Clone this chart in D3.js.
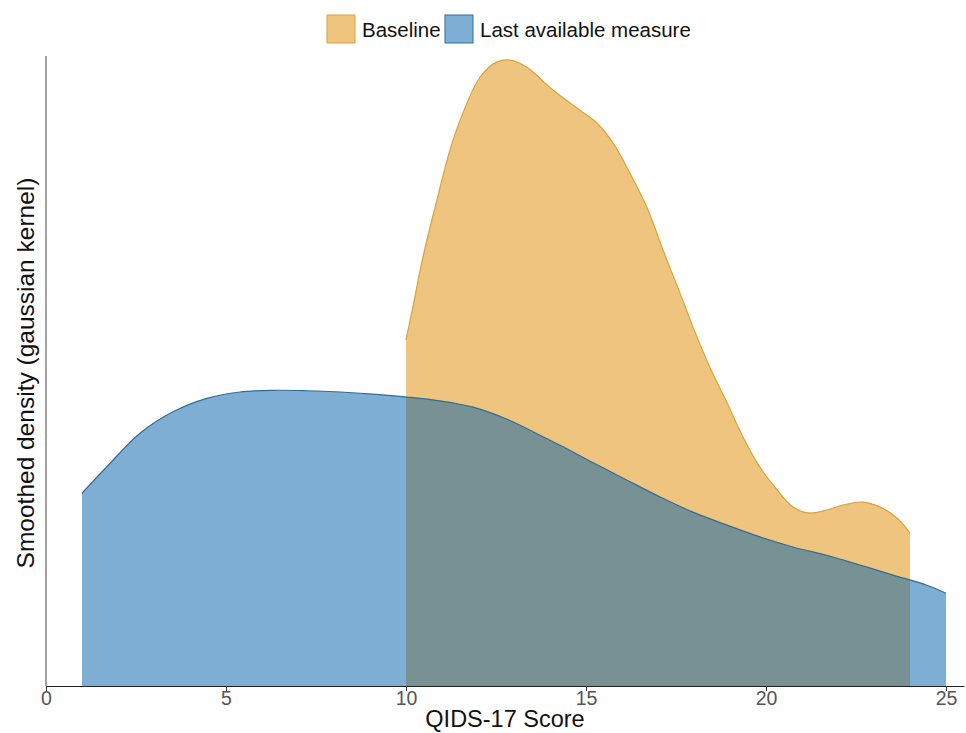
<!DOCTYPE html>
<html>
<head>
<meta charset="utf-8">
<script src="https://cdn.jsdelivr.net/npm/d3@7"></script>
<style>
  body { margin: 0; background: #fff; }
  svg { font-family: "Liberation Sans", Arial, sans-serif; }
</style>
</head>
<body>
<svg id="chart" width="966" height="733"></svg>
<script>
// density curves (score, smoothed density)
const baselineScore = [10, 10.19, 10.47, 10.86, 11.22, 11.58, 12.06, 12.53, 12.89, 13.36, 14.08, 14.83, 15.31, 15.75, 16.22, 16.69, 17.14, 17.61, 17.97, 18.44, 18.92, 19.36, 19.83, 20.31, 20.75, 21.17, 21.69, 22.14, 22.69, 23.17, 23.64, 24];
const baselineDensity = [0.0824, 0.0902, 0.1021, 0.1157, 0.1276, 0.1364, 0.1450, 0.1486, 0.1490, 0.1473, 0.1419, 0.1371, 0.1340, 0.1293, 0.1221, 0.1140, 0.1038, 0.0936, 0.0855, 0.0759, 0.0674, 0.0593, 0.0521, 0.0467, 0.0426, 0.0412, 0.0419, 0.0431, 0.0438, 0.0426, 0.0400, 0.0364];

const lastScore = [1, 1.69, 2.61, 3.53, 4.47, 5.39, 6.31, 7.25, 8.17, 9.08, 10.03, 10.94, 11.86, 12.81, 13.72, 14.28, 15.19, 16.14, 17.06, 17.97, 18.92, 19.83, 20.75, 21.69, 22.61, 23.53, 24.47, 25];
const lastDensity = [0.0459, 0.0522, 0.0602, 0.0653, 0.0685, 0.0700, 0.0704, 0.0703, 0.0700, 0.0695, 0.0688, 0.0679, 0.0664, 0.0635, 0.0597, 0.0573, 0.0532, 0.0490, 0.0450, 0.0414, 0.0383, 0.0355, 0.0331, 0.0311, 0.0288, 0.0264, 0.0240, 0.0221];

const xTicks = [0, 5, 10, 15, 20, 25];
const groups = ["Baseline", "Last available measure"];

const svg = d3.select("#chart");
const plotLeft = 46, plotRight = 964, plotTop = 56, plotBottom = 686;

const x = d3.scaleLinear().domain([0, 25.5]).range([plotLeft, plotRight]);
const y = d3.scaleLinear().domain([0, 0.15]).range([plotBottom, plotTop]);

const colors = { "Baseline": "#DD8900", "Last available measure": "#005DA9" };
const lineColors = { "Baseline": "#D9A437", "Last available measure": "#2F6E98" };

const series = [
    { name: "Baseline", pts: d3.zip(baselineScore, baselineDensity) },
    { name: "Last available measure", pts: d3.zip(lastScore, lastDensity) }
];

const curve = d3.curveCatmullRom.alpha(0.5);

const area = d3.area()
    .x(d => x(d[0]))
    .y0(y(0))
    .y1(d => y(d[1]))
    .curve(curve);

const line = d3.line()
    .x(d => x(d[0]))
    .y(d => y(d[1]))
    .curve(curve);

series.forEach(s => {
    svg.append("path")
        .datum(s.pts)
        .attr("d", area)
        .attr("fill", colors[s.name])
        .attr("fill-opacity", 0.5);
    svg.append("path")
        .datum(s.pts)
        .attr("d", line)
        .attr("fill", "none")
        .attr("stroke", lineColors[s.name])
        .attr("stroke-width", 1.2);
});

// x axis
const xAxis = svg.append("g")
    .attr("transform", `translate(0,${plotBottom})`)
    .call(d3.axisBottom(x).tickValues(xTicks).tickSize(5).tickSizeOuter(0));
xAxis.select(".domain").attr("stroke", "#222").attr("stroke-width", 1.2);
xAxis.selectAll(".tick line").attr("stroke", "#333");
xAxis.selectAll(".tick text")
    .attr("font-size", 19.5)
    .attr("fill", "#555")
    .attr("font-family", "Liberation Sans, Arial, sans-serif")
    .attr("y", 19)
    .attr("dy", null);

// y axis, line only
svg.append("line")
    .attr("x1", plotLeft).attr("x2", plotLeft)
    .attr("y1", plotTop).attr("y2", plotBottom)
    .attr("stroke", "#666").attr("stroke-width", 1.2);

// axis titles
svg.append("text")
    .attr("x", 505)
    .attr("y", 727)
    .attr("text-anchor", "middle")
    .attr("font-size", 23.5)
    .attr("fill", "#111")
    .text("QIDS-17 Score");

svg.append("text")
    .attr("transform", "translate(34,373) rotate(-90)")
    .attr("text-anchor", "middle")
    .attr("font-size", 24.5)
    .attr("fill", "#111")
    .text("Smoothed density (gaussian kernel)");

// legend
const legendX = [327, 445];
groups.forEach((g, i) => {
    svg.append("rect")
        .attr("x", legendX[i]).attr("y", 15)
        .attr("width", 28).attr("height", 28)
        .attr("fill", colors[g]).attr("fill-opacity", 0.5)
        .attr("stroke", lineColors[g]).attr("stroke-width", 1);
    svg.append("text")
        .attr("x", legendX[i] + 35).attr("y", 36.5)
        .attr("font-size", 20.5)
        .attr("fill", "#111")
        .text(g);
});
</script>
</body>
</html>
